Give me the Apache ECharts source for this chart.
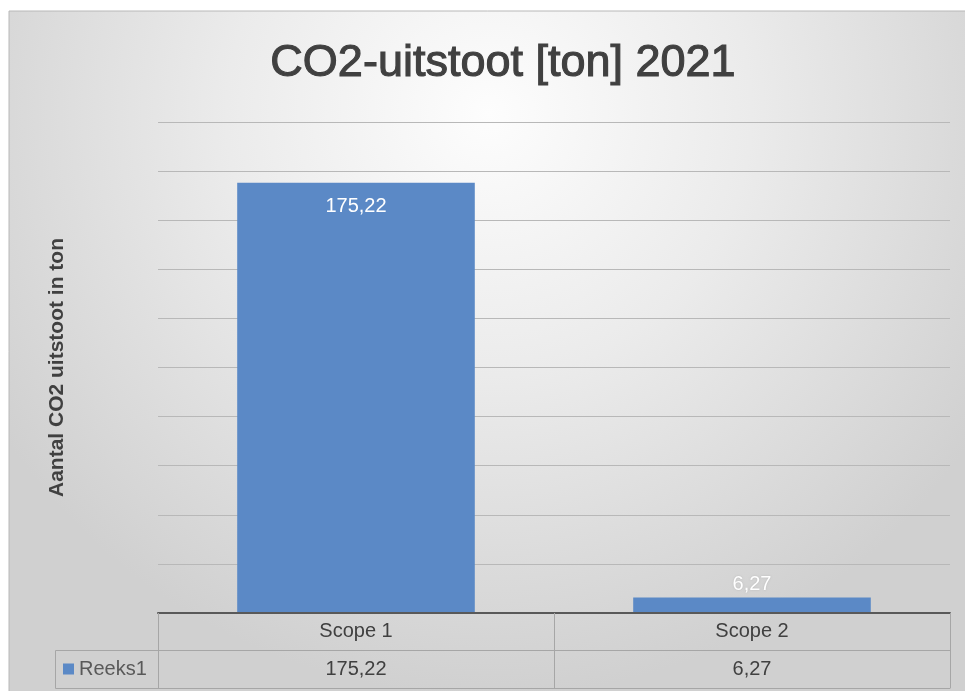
<!DOCTYPE html>
<html>
<head>
<meta charset="utf-8">
<script src="https://cdn.jsdelivr.net/npm/echarts@6/dist/echarts.min.js"></script>
<style>
html,body{margin:0;padding:0;background:#ffffff;}
#chart{width:965px;height:691px;}
</style>
</head>
<body>
<div id="chart"></div>
<script>
const titleText = 'CO2-uitstoot [ton] 2021';
const yAxisName = 'Aantal CO2 uitstoot in ton';
const seriesName = 'Reeks1';
const categories = ['Scope 1', 'Scope 2'];
const values = [175.22, 6.27];
const yMin = 0, yMax = 200, yStep = 20;

const fmt = v => v.toFixed(2).replace('.', ',');
const FONT = '"Liberation Sans", Arial, sans-serif';
const TEXT = '#404040';
const LINE = '#a6a6a6';

const chart = echarts.init(document.getElementById('chart'), null, {renderer: 'canvas'});
chart.setOption({
  animation: false,
  textStyle: {fontFamily: FONT},
  graphic: [
    {
      type: 'rect', z: -100, silent: true,
      shape: {x: 9, y: 11, width: 960, height: 685},
      style: {
        fill: new echarts.graphic.RadialGradient(0.5, 0.15, 0.85, [
          {offset: 0, color: '#fdfdfd'},
          {offset: 0.45, color: '#ebebeb'},
          {offset: 1, color: '#d0d0d0'}
        ]),
        stroke: '#b8b8b8', lineWidth: 1
      }
    },
    {
      type: 'polyline', silent: true, z: 10,
      shape: {points: [[158, 650.5], [55.5, 650.5], [55.5, 688.5], [158, 688.5]]},
      style: {stroke: LINE, lineWidth: 1, fill: null}
    }
  ],
  title: {
    text: titleText,
    left: 498, top: 36, textAlign: 'center',
    textStyle: {fontFamily: FONT, fontSize: 45, fontWeight: 'normal', color: TEXT,
      textBorderColor: TEXT, textBorderWidth: 1.1}
  },
  legend: {
    data: [seriesName],
    left: 58, top: 654,
    icon: 'rect', itemWidth: 11, itemHeight: 11, itemGap: 5,
    textStyle: {fontFamily: FONT, fontSize: 20, color: '#595959'}
  },
  grid: {left: 158, right: 15, top: 122, bottom: 78, containLabel: false},
  xAxis: [
    {
      type: 'category', data: categories, boundaryGap: true,
      axisLine: {show: true, lineStyle: {color: '#595959', width: 2}},
      axisTick: {show: true, length: 75, interval: 0, lineStyle: {color: LINE, width: 1}},
      axisLabel: {
        interval: 0, margin: 0, color: TEXT,
        formatter: (v, i) => '{a|' + v + '}\n{b|' + fmt(values[i]) + '}',
        rich: {
          a: {fontFamily: FONT, fontSize: 20, lineHeight: 37, color: TEXT},
          b: {fontFamily: FONT, fontSize: 20, lineHeight: 38, color: TEXT}
        }
      },
      z: 5
    },
    {
      type: 'category', data: categories, position: 'bottom', offset: 37,
      axisLine: {show: true, lineStyle: {color: LINE, width: 1}},
      axisTick: {show: false}, axisLabel: {show: false}
    },
    {
      type: 'category', data: categories, position: 'bottom', offset: 75,
      axisLine: {show: true, lineStyle: {color: LINE, width: 1}},
      axisTick: {show: false}, axisLabel: {show: false}
    }
  ],
  yAxis: {
    type: 'value', min: yMin, max: yMax, interval: yStep,
    axisLine: {show: false}, axisTick: {show: false}, axisLabel: {show: false},
    splitLine: {show: true, lineStyle: {color: '#b8b8b8', width: 1}},
    name: yAxisName, nameLocation: 'middle', nameRotate: 90, nameGap: 90,
    nameTextStyle: {fontFamily: FONT, fontSize: 21, fontWeight: 'bold', color: TEXT}
  },
  series: [{
    name: seriesName,
    type: 'bar',
    xAxisIndex: 0,
    data: [
      {value: values[0]},
      {value: values[1], label: {position: 'top', distance: 3,
        textShadowColor: 'rgba(0,0,0,0.15)', textShadowBlur: 2}}
    ],
    barWidth: '60%',
    itemStyle: {color: '#5b89c6'},
    label: {
      show: true,
      fontFamily: FONT, fontSize: 20, color: '#ffffff',
      formatter: p => fmt(p.value),
      position: 'insideTop', distance: 14
    }
  }]
});
</script>
</body>
</html>
